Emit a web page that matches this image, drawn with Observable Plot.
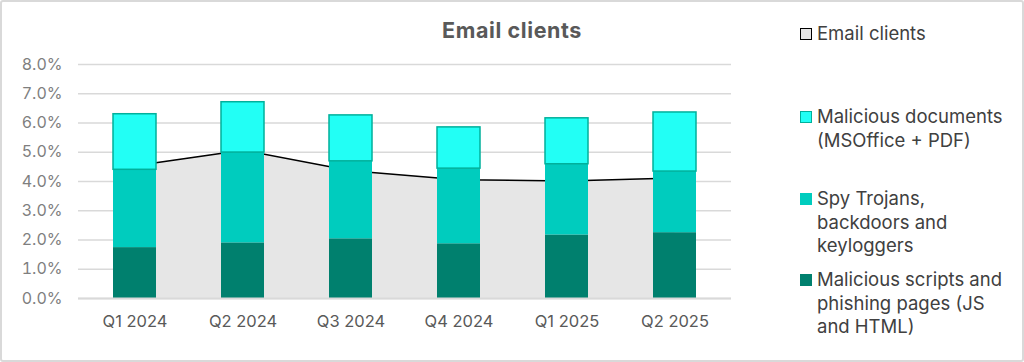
<!DOCTYPE html>
<html>
<head>
<meta charset="utf-8">
<script src="https://cdn.jsdelivr.net/npm/d3@7"></script>
<script src="https://cdn.jsdelivr.net/npm/@observablehq/plot@0.6"></script>
<style>
  html, body { margin: 0; padding: 0; background: #fff; }
  #frame { position: relative; width: 1024px; height: 362px; box-sizing: border-box;
           border: 2px solid #d9d9d9; border-radius: 3px; overflow: hidden; font-family: Inter, "Open Sans", sans-serif; }
  #chart { position: absolute; left: -2px; top: -2px; }
  #title { position: absolute; left: 0; width: 1024px; top: 14.5px; text-align: center;
           font-size: 21.5px; line-height: 26px; letter-spacing: 0.6px; font-weight: 700; color: #595959; margin-left: -2px; }
  .leg { position: absolute; left: 798px; font-size: 18.5px; line-height: 23.5px; color: #404040; white-space: nowrap; }
  .sw { position: absolute; left: 0px; width: 12px; height: 12px; box-sizing: border-box; }
  .leg .txt { margin-left: 17px; }
  #chart svg g[aria-label="y-axis tick label"] text { fill: #7f7f7f; }
  #chart svg g[aria-label="x-axis tick label"] text { fill: #595959; font-size: 16.5px; }
</style>
</head>
<body>
<div id="frame">
  <div id="chart"></div>
  <div id="title">Email clients</div>
  <div id="legend"></div>
</div>
<script>
const quarters = ["Q1 2024", "Q2 2024", "Q3 2024", "Q4 2024", "Q1 2025", "Q2 2025"];
// stacked segments, % (bottom to top)
const scripts = [1.74, 1.90, 2.04, 1.87, 2.17, 2.25];
const spy     = [2.66, 3.09, 2.65, 2.57, 2.42, 2.09];
const docs    = [1.90, 1.72, 1.57, 1.41, 1.57, 2.02];
// Email clients line/area, %
const email   = [4.54, 5.07, 4.37, 4.06, 4.02, 4.12];
const yTicks  = [0, 1, 2, 3, 4, 5, 6, 7, 8];

const seriesNames = [
  "Malicious scripts and phishing pages (JS and HTML)",
  "Spy Trojans, backdoors and keyloggers",
  "Malicious documents (MSOffice + PDF)"
];
const seriesFill = ["#00806E", "#00CCBE", "#22FFF5"];
const seriesValues = [scripts, spy, docs];

const rows = [];
quarters.forEach((q, i) => {
  let base = 0;
  seriesValues.forEach((vals, s) => {
    rows.push({q, s, y1: base, y2: base + vals[i]});
    base += vals[i];
  });
});
const emailRows = quarters.map((q, i) => ({q, v: email[i]}));

const chart = Plot.plot({
  width: 760,
  height: 362,
  marginLeft: 78,
  marginRight: 29,
  marginTop: 64,
  marginBottom: 64,
  style: {fontFamily: "Inter, 'Open Sans', sans-serif", fontSize: "16px", color: "#595959", background: "transparent"},
  x: {domain: quarters, paddingInner: 0.6, paddingOuter: 0.3, label: null, tickSize: 0, tickPadding: 17},
  y: {domain: [0, 8], ticks: yTicks, tickFormat: d => d.toFixed(1) + "%", label: null, tickSize: 0, tickPadding: 16},
  marks: [
    Plot.gridY(yTicks, {stroke: "#d9d9d9", strokeOpacity: 1, strokeWidth: 1.5}),
    Plot.areaY(emailRows, {x: "q", y: "v", fill: "#e6e6e6"}),
    Plot.lineY(emailRows, {x: "q", y: "v", stroke: "#000", strokeWidth: 1.5}),
    Plot.barY(rows.filter(d => d.s < 2), {x: "q", y1: "y1", y2: "y2", fill: d => seriesFill[d.s]}),
    Plot.barY(rows.filter(d => d.s === 2), {x: "q", y1: "y1", y2: "y2", fill: seriesFill[2], stroke: "#00B09B", strokeWidth: 1.5}),
    Plot.ruleY([0], {stroke: "#d9d9d9", strokeWidth: 2})
  ]
});
document.getElementById("chart").append(chart);

// legend
const legendItems = [
  {lines: ["Email clients"], fill: "#e6e6e6", border: "#000", center: 34},
  {lines: ["Malicious documents", "(MSOffice + PDF)"], fill: seriesFill[2], border: "#00B09B", center: 117},
  {lines: ["Spy Trojans,", "backdoors and", "keyloggers"], fill: seriesFill[1], border: null, center: 199},
  {lines: ["Malicious scripts and", "phishing pages (JS", "and HTML)"], fill: seriesFill[0], border: null, center: 280}
];
const legend = document.getElementById("legend");
legendItems.forEach(it => {
  const d = document.createElement("div");
  d.className = "leg";
  d.style.top = (it.center - 2 - 11.75) + "px";
  const sw = document.createElement("div");
  sw.className = "sw";
  sw.style.top = (11.75 - 6) + "px";
  sw.style.background = it.fill;
  if (it.border) sw.style.border = "1.5px solid " + it.border;
  d.append(sw);
  const t = document.createElement("div");
  t.className = "txt";
  t.innerHTML = it.lines.join("<br>");
  d.append(t);
  legend.append(d);
});
</script>
</body>
</html>
